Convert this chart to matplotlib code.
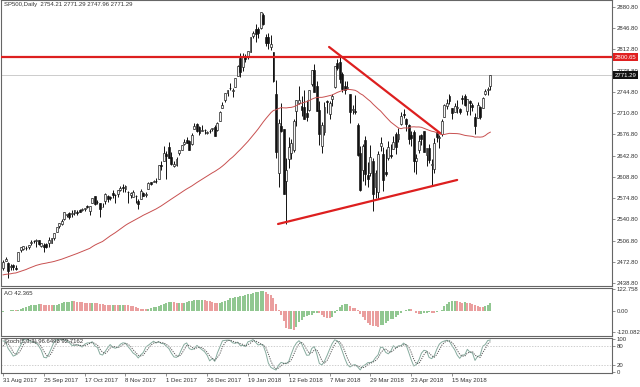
import numpy as np
import matplotlib
matplotlib.use("Agg")
import matplotlib.pyplot as plt
from matplotlib.transforms import blended_transform_factory

# ---------------- data ----------------
# closes before the visible window (16 Jun 2017 .. 30 Aug 2017), used to warm up MA / AO / Stoch
warmup_close = [2433.15, 2453.46, 2437.03, 2435.61, 2434.50, 2438.30, 2439.07, 2419.38, 2440.69, 2419.70,
                2423.41, 2429.01, 2432.54, 2409.75, 2425.18, 2427.43, 2425.53, 2443.25, 2447.83, 2459.27,
                2459.14, 2460.61, 2473.83, 2473.45, 2472.54, 2469.91, 2477.13, 2477.83, 2475.42, 2472.10,
                2470.30, 2476.35, 2477.57, 2472.16, 2476.83, 2480.91, 2474.92, 2474.02, 2438.21, 2441.32,
                2465.84, 2464.61, 2468.11, 2430.01, 2425.55, 2428.37, 2452.51, 2444.04, 2438.97, 2443.05,
                2444.24, 2446.30, 2457.59]

# visible daily bars 31 Aug 2017 .. 6 Jun 2018
ohlc = [
    # Aug 31
    (2462.6, 2475.0, 2459.9, 2471.7),
    # Sep
    (2474.4, 2480.4, 2473.9, 2476.6), (2470.4, 2472.0, 2446.6, 2457.9), (2463.8, 2469.6, 2459.2, 2465.5),
    (2468.1, 2468.6, 2460.3, 2465.1), (2462.3, 2467.1, 2459.4, 2461.4), (2474.5, 2488.9, 2474.5, 2488.1),
    (2491.9, 2496.8, 2488.0, 2496.5), (2493.9, 2498.4, 2492.1, 2498.4), (2494.6, 2498.4, 2491.4, 2495.6),
    (2495.7, 2500.2, 2493.2, 2500.2), (2502.5, 2508.3, 2499.9, 2503.9), (2506.3, 2507.8, 2503.2, 2506.7),
    (2506.8, 2508.9, 2496.7, 2508.2), (2507.2, 2507.2, 2499.0, 2500.6), (2497.3, 2503.5, 2496.5, 2502.2),
    (2499.4, 2502.5, 2488.0, 2496.7), (2501.0, 2503.5, 2495.1, 2496.8), (2503.3, 2511.8, 2495.9, 2507.0),
    (2503.4, 2510.8, 2502.9, 2510.1), (2510.4, 2519.4, 2507.8, 2519.4),
    # Oct
    (2521.2, 2529.2, 2520.4, 2529.1), (2530.3, 2534.7, 2527.6, 2534.6), (2533.5, 2540.5, 2531.8, 2537.7),
    (2540.9, 2552.5, 2540.0, 2552.1), (2547.4, 2549.4, 2543.8, 2549.3), (2551.4, 2551.8, 2541.6, 2544.7),
    (2550.0, 2555.2, 2544.9, 2550.6), (2550.6, 2555.2, 2548.0, 2555.2), (2552.9, 2555.3, 2548.3, 2550.9),
    (2555.7, 2557.7, 2552.0, 2553.2), (2555.6, 2559.5, 2553.8, 2557.6), (2557.2, 2559.7, 2554.7, 2559.4),
    (2562.9, 2564.1, 2559.7, 2561.3), (2553.4, 2562.4, 2547.9, 2562.1), (2567.6, 2575.4, 2567.6, 2575.2),
    (2578.1, 2578.3, 2564.3, 2565.0), (2568.7, 2572.2, 2565.6, 2569.1), (2566.5, 2567.4, 2544.0, 2557.2),
    (2560.1, 2567.1, 2559.8, 2560.4), (2570.3, 2583.0, 2565.9, 2581.1), (2577.8, 2580.0, 2568.4, 2572.8),
    (2576.0, 2578.3, 2572.1, 2575.3),
    # Nov
    (2583.2, 2588.4, 2574.9, 2579.4), (2579.5, 2581.1, 2566.2, 2579.9), (2581.9, 2588.4, 2576.8, 2587.8),
    (2587.5, 2593.4, 2585.7, 2591.1), (2592.1, 2597.0, 2584.1, 2590.6), (2588.7, 2595.5, 2585.0, 2594.4),
    (2584.0, 2586.5, 2566.3, 2584.6), (2580.2, 2583.8, 2575.6, 2582.3), (2576.5, 2587.7, 2576.5, 2584.8),
    (2577.8, 2579.7, 2566.6, 2578.9), (2569.5, 2572.8, 2557.4, 2564.6), (2572.9, 2590.1, 2572.9, 2585.6),
    (2582.9, 2584.0, 2577.6, 2578.9), (2579.5, 2584.6, 2576.2, 2582.1), (2589.2, 2600.0, 2589.2, 2599.0),
    (2600.3, 2600.9, 2596.1, 2597.1), (2600.4, 2604.2, 2600.4, 2602.4), (2602.7, 2606.4, 2598.9, 2601.4),
    (2605.9, 2627.7, 2605.4, 2627.0), (2627.8, 2634.9, 2620.3, 2626.1), (2633.9, 2657.7, 2633.9, 2647.6),
    # Dec
    (2645.1, 2650.6, 2605.5, 2642.2), (2657.2, 2665.2, 2639.0, 2639.4), (2639.8, 2648.7, 2627.7, 2629.6),
    (2626.2, 2634.4, 2624.8, 2629.3), (2628.4, 2641.0, 2626.5, 2637.0), (2646.2, 2651.6, 2644.1, 2651.5),
    (2652.2, 2660.3, 2651.5, 2660.0), (2661.7, 2669.7, 2659.8, 2664.1), (2667.6, 2671.9, 2662.9, 2662.9),
    (2665.9, 2668.1, 2652.0, 2652.0), (2660.6, 2679.6, 2659.1, 2675.8), (2685.9, 2695.0, 2685.9, 2690.2),
    (2692.7, 2694.4, 2680.7, 2681.5), (2688.2, 2691.0, 2676.1, 2679.3), (2683.0, 2692.6, 2682.4, 2684.6),
    (2684.2, 2685.4, 2678.1, 2683.3), (2679.1, 2682.7, 2678.0, 2680.5), (2682.1, 2685.6, 2678.9, 2682.6),
    (2686.1, 2687.7, 2682.7, 2687.5), (2689.2, 2692.1, 2673.6, 2673.6),
    # Jan
    (2683.7, 2695.9, 2682.4, 2695.8), (2697.9, 2714.4, 2697.8, 2713.1), (2719.3, 2729.3, 2719.1, 2724.0),
    (2731.3, 2743.5, 2727.9, 2743.2), (2742.7, 2748.5, 2737.6, 2747.7), (2751.1, 2759.1, 2747.9, 2751.3),
    (2745.6, 2750.8, 2736.1, 2748.2), (2753.0, 2767.6, 2752.8, 2767.6), (2770.2, 2787.9, 2769.6, 2786.2),
    (2799.0, 2807.5, 2768.6, 2776.4), (2785.0, 2807.0, 2778.4, 2802.6), (2802.4, 2805.8, 2792.6, 2798.0),
    (2802.6, 2810.3, 2798.1, 2810.3), (2809.2, 2833.0, 2808.1, 2833.0), (2835.1, 2842.2, 2830.6, 2839.1),
    (2845.4, 2853.0, 2824.8, 2837.5), (2846.2, 2848.6, 2830.9, 2839.3), (2847.5, 2872.9, 2846.2, 2872.9),
    (2867.2, 2870.6, 2851.5, 2853.5), (2832.7, 2837.8, 2818.3, 2822.4), (2832.4, 2839.3, 2813.0, 2823.8),
    # Feb
    (2816.5, 2836.0, 2812.7, 2822.0), (2808.9, 2808.9, 2760.0, 2762.1), (2741.1, 2763.4, 2638.2, 2648.9),
    (2614.8, 2701.0, 2593.1, 2695.1), (2691.0, 2727.7, 2681.3, 2681.7), (2685.0, 2685.3, 2580.6, 2581.0),
    (2601.8, 2638.7, 2532.7, 2619.6), (2636.8, 2672.6, 2622.5, 2656.0), (2646.3, 2668.8, 2637.1, 2662.9),
    (2651.2, 2702.1, 2648.9, 2698.6), (2713.5, 2731.5, 2689.8, 2731.2), (2727.1, 2754.4, 2725.1, 2732.2),
    (2723.0, 2737.6, 2706.8, 2716.3), (2720.5, 2747.8, 2701.3, 2701.3), (2710.4, 2731.3, 2697.8, 2704.0),
    (2715.8, 2747.8, 2713.7, 2747.3), (2757.4, 2780.6, 2753.8, 2779.6), (2780.5, 2789.2, 2744.2, 2744.3),
    (2753.8, 2761.5, 2713.5, 2713.8),
    # Mar
    (2715.2, 2730.9, 2659.7, 2677.7), (2658.9, 2696.3, 2647.3, 2691.3), (2681.1, 2728.1, 2675.8, 2720.9),
    (2730.2, 2732.1, 2711.3, 2728.1), (2710.2, 2730.6, 2701.7, 2726.8), (2732.8, 2741.0, 2721.5, 2739.0),
    (2752.9, 2786.6, 2751.5, 2786.6), (2790.5, 2797.0, 2779.3, 2783.0), (2792.3, 2801.9, 2758.7, 2765.3),
    (2774.1, 2777.1, 2744.4, 2749.5), (2754.3, 2763.0, 2741.5, 2747.3), (2750.6, 2761.9, 2750.0, 2752.0),
    (2741.4, 2741.4, 2694.6, 2712.9), (2715.1, 2724.2, 2710.1, 2716.9), (2715.0, 2739.1, 2709.8, 2711.9),
    (2691.4, 2695.7, 2641.6, 2643.7), (2646.7, 2657.7, 2585.9, 2588.3), (2619.4, 2661.4, 2601.8, 2658.6),
    (2667.6, 2674.8, 2596.1, 2612.6), (2611.3, 2632.7, 2593.1, 2605.0), (2614.4, 2659.1, 2609.7, 2640.9),
    # Apr
    (2633.5, 2638.3, 2553.8, 2581.9), (2592.2, 2619.1, 2575.5, 2614.5), (2584.0, 2649.9, 2573.6, 2644.7),
    (2657.4, 2672.1, 2649.6, 2662.8), (2645.8, 2656.9, 2586.3, 2604.5), (2617.2, 2653.6, 2610.8, 2613.2),
    (2638.4, 2665.5, 2635.8, 2656.9), (2643.0, 2661.4, 2639.3, 2642.2), (2653.8, 2674.7, 2653.8, 2664.0),
    (2676.9, 2680.3, 2645.1, 2656.3), (2670.1, 2686.5, 2665.2, 2677.8), (2692.7, 2713.3, 2692.1, 2706.4),
    (2710.1, 2717.5, 2703.6, 2708.6), (2701.2, 2702.8, 2681.9, 2693.1), (2692.6, 2693.9, 2660.6, 2670.1),
    (2675.4, 2682.9, 2657.7, 2670.3), (2680.8, 2683.6, 2617.3, 2634.6), (2634.9, 2645.3, 2612.7, 2639.4),
    (2651.7, 2676.5, 2647.2, 2666.9), (2675.5, 2677.4, 2659.0, 2669.9), (2682.5, 2682.9, 2648.0, 2648.1),
    # May
    (2643.0, 2655.3, 2625.4, 2654.8), (2654.2, 2660.9, 2631.7, 2635.7), (2628.1, 2637.1, 2594.6, 2629.7),
    (2621.5, 2670.9, 2615.3, 2663.4), (2680.3, 2683.4, 2664.7, 2672.6), (2670.3, 2676.3, 2655.2, 2671.9),
    (2678.1, 2701.3, 2674.1, 2697.8), (2705.0, 2726.1, 2704.5, 2723.1), (2722.7, 2732.9, 2717.5, 2727.7),
    (2738.3, 2742.1, 2725.9, 2730.1), (2718.6, 2718.6, 2701.9, 2711.5), (2712.6, 2727.8, 2712.2, 2722.5),
    (2719.7, 2732.0, 2711.4, 2720.1), (2717.4, 2719.5, 2709.2, 2713.0), (2735.4, 2739.2, 2725.7, 2733.0),
    (2738.3, 2742.2, 2721.9, 2724.4), (2714.0, 2733.3, 2707.4, 2733.3), (2730.9, 2732.0, 2707.4, 2727.8),
    (2723.6, 2727.4, 2715.0, 2721.3), (2705.1, 2710.7, 2676.8, 2689.9), (2702.4, 2729.3, 2702.4, 2724.0),
    (2721.0, 2722.5, 2700.7, 2705.3),
    # Jun
    (2718.7, 2736.9, 2718.7, 2734.6), (2741.7, 2749.2, 2740.5, 2746.9), (2748.5, 2752.6, 2739.5, 2748.8),
    (2754.21, 2771.29, 2747.96, 2771.29),
]
opens = [r[0] for r in ohlc]
highs = [r[1] for r in ohlc]
lows = [r[2] for r in ohlc]
closes = [r[3] for r in ohlc]

date_labels = ["31 Aug 2017", "25 Sep 2017", "17 Oct 2017", "8 Nov 2017", "1 Dec 2017", "26 Dec 2017",
               "19 Jan 2018", "12 Feb 2018", "7 Mar 2018", "29 Mar 2018", "23 Apr 2018", "15 May 2018"]
date_label_bars = [0, 16, 32, 48, 64, 80, 96, 112, 128, 144, 160, 176]

resistance_level = 2800.65
last_price = 2771.29
down_trend_bars, down_trend_prices = [127.8, 171.3], [2816.8, 2679.0]
up_trend_bars, up_trend_prices = [107.8, 178.0], [2533.3, 2603.8]

price_ticks = [2438.80 + 34 * k for k in range(14)]
ao_ticks = [122.758, 0.0, -120.082]
ao_tick_labels = ["122.758", "0.00", "-120.082"]
stoch_ticks = [100, 80, 20, 0]

title_text = "SP500,Daily  2754.21 2771.29 2747.96 2771.29"
ao_text = "AO 42.365"
stoch_text = "Stoch(5,3,3) 96.6496 92.7162"

# ---------------- indicators ----------------
n = len(closes)
nw = len(warmup_close)
o = np.array(opens); h = np.array(highs); l = np.array(lows); c = np.array(closes)
full_c = np.concatenate([warmup_close, c])
full_h = np.concatenate([warmup_close, h])
full_l = np.concatenate([warmup_close, l])
full_med = (full_h + full_l) / 2


def sma(a, p):
    out = np.full(len(a), np.nan)
    cs = np.cumsum(np.insert(a, 0, 0.0))
    out[p - 1:] = (cs[p:] - cs[:-p]) / p
    return out


ma50 = sma(full_c, 50)[nw:]
ao_full = sma(full_med, 5) - sma(full_med, 34)
ao = ao_full[nw:]
ao_prev = ao_full[nw - 1:-1]

hh = np.array([full_h[max(0, i - 4):i + 1].max() for i in range(len(full_c))])
ll = np.array([full_l[max(0, i - 4):i + 1].min() for i in range(len(full_c))])
num = full_c - ll
den = hh - ll
k_main = 100 * sma(num, 3) / sma(den, 3)
k_sig = sma(np.nan_to_num(k_main, nan=50), 3)
stoch_main = k_main[nw:]
stoch_sig = k_sig[nw:]

x = np.arange(n)

# ---------------- figure ----------------
plt.rcParams['font.family'] = ['Liberation Sans', 'DejaVu Sans']
fig = plt.figure(figsize=(6.4, 3.87), dpi=100)
L, R = 1 / 640, 612 / 640
ax = fig.add_axes([L, 1 - 286 / 387, R - L, 286 / 387])
ax2 = fig.add_axes([L, 1 - 336 / 387, R - L, 48 / 387], sharex=ax)
ax3 = fig.add_axes([L, 1 - 373 / 387, R - L, 35 / 387], sharex=ax)

fs = 4.3
tc = '#333333'
for a in (ax, ax2, ax3):
    for s in a.spines.values():
        s.set_color('#666666')
        s.set_linewidth(0.8)
    a.yaxis.tick_right()
    a.tick_params(axis='y', which='both', length=2, width=0.5, color='#666666',
                  labelsize=fs, labelcolor=tc, pad=1.5)
    a.tick_params(axis='x', length=0, labelbottom=False)

# candles
up = c >= o
ax.vlines(x, l, h, color='#111111', lw=0.7, zorder=2)
ax.bar(x[up], (c - o)[up], bottom=o[up], width=0.75, color='#f4f4f4', edgecolor='#111111', lw=0.45, zorder=3)
ax.bar(x[~up], (o - c)[~up], bottom=c[~up], width=0.75, color='#111111', edgecolor='#111111', lw=0.45, zorder=3)
ax.plot(x, ma50, color='#c85050', lw=0.7, zorder=4)

ax.axhline(resistance_level, color='#dd1f1f', lw=1.6, zorder=5)
ax.axhline(last_price, color='#cccccc', lw=0.7, zorder=1)
ax.plot(down_trend_bars, down_trend_prices, color='#dd1f1f', lw=1.6, zorder=5, solid_capstyle='round')
ax.plot(up_trend_bars, up_trend_prices, color='#dd1f1f', lw=1.6, zorder=5, solid_capstyle='round')

ax.set_xlim(-0.8, 238.7)
ax.set_ylim(2434.0, 2892.0)
ax.set_yticks(price_ticks)
ax.set_yticklabels([f"{v:.2f}" for v in price_ticks])

tr = blended_transform_factory(ax.transAxes, ax.transData)
ax.text(1.004, resistance_level, f"{resistance_level:.2f}", transform=tr, fontsize=fs, color='white',
        va='center', ha='left', clip_on=False, zorder=10,
        bbox=dict(boxstyle='square,pad=0.25', fc='#e02020', ec='none'))
ax.text(1.004, last_price, f"{last_price:.2f}", transform=tr, fontsize=fs, color='white',
        va='center', ha='left', clip_on=False, zorder=10,
        bbox=dict(boxstyle='square,pad=0.25', fc='#111111', ec='none'))
ax.text(0.005, 0.992, title_text, transform=ax.transAxes, fontsize=fs, color=tc, va='top', ha='left')

# AO
ao_col = np.where(ao >= ao_prev, '#86c286', '#e89494')
ax2.vlines(x, 0, ao, colors=ao_col, lw=1.3)
ax2.set_ylim(-142.7, 128.4)
ax2.set_yticks(ao_ticks)
ax2.set_yticklabels(ao_tick_labels)
ax2.text(0.005, 0.93, ao_text, transform=ax2.transAxes, fontsize=fs, color=tc, va='top', ha='left')

# Stochastic
ax3.plot(x, stoch_main, color='#86ab9e', lw=0.7)
ax3.plot(x, stoch_sig, color='#555555', lw=0.7, ls=(0, (1.2, 1.2)))
ax3.axhline(80, color='#bbbbbb', lw=0.5, ls=(0, (2, 2)))
ax3.axhline(20, color='#bbbbbb', lw=0.5, ls=(0, (2, 2)))
ax3.set_ylim(-3, 103)
ax3.set_yticks(stoch_ticks)
ax3.set_yticklabels([str(v) for v in stoch_ticks])
ax3.text(0.005, 0.97, stoch_text, transform=ax3.transAxes, fontsize=fs, color=tc, va='top', ha='left')

ax3.set_xticks(date_label_bars)
ax3.set_xticklabels(date_labels)
ax3.tick_params(axis='x', length=2, width=0.5, color='#666666', labelbottom=True,
                labelsize=fs, labelcolor=tc, pad=1.5)
for t in ax3.get_xticklabels():
    t.set_ha('left')

fig.savefig('out.png', dpi=100, facecolor='white')
